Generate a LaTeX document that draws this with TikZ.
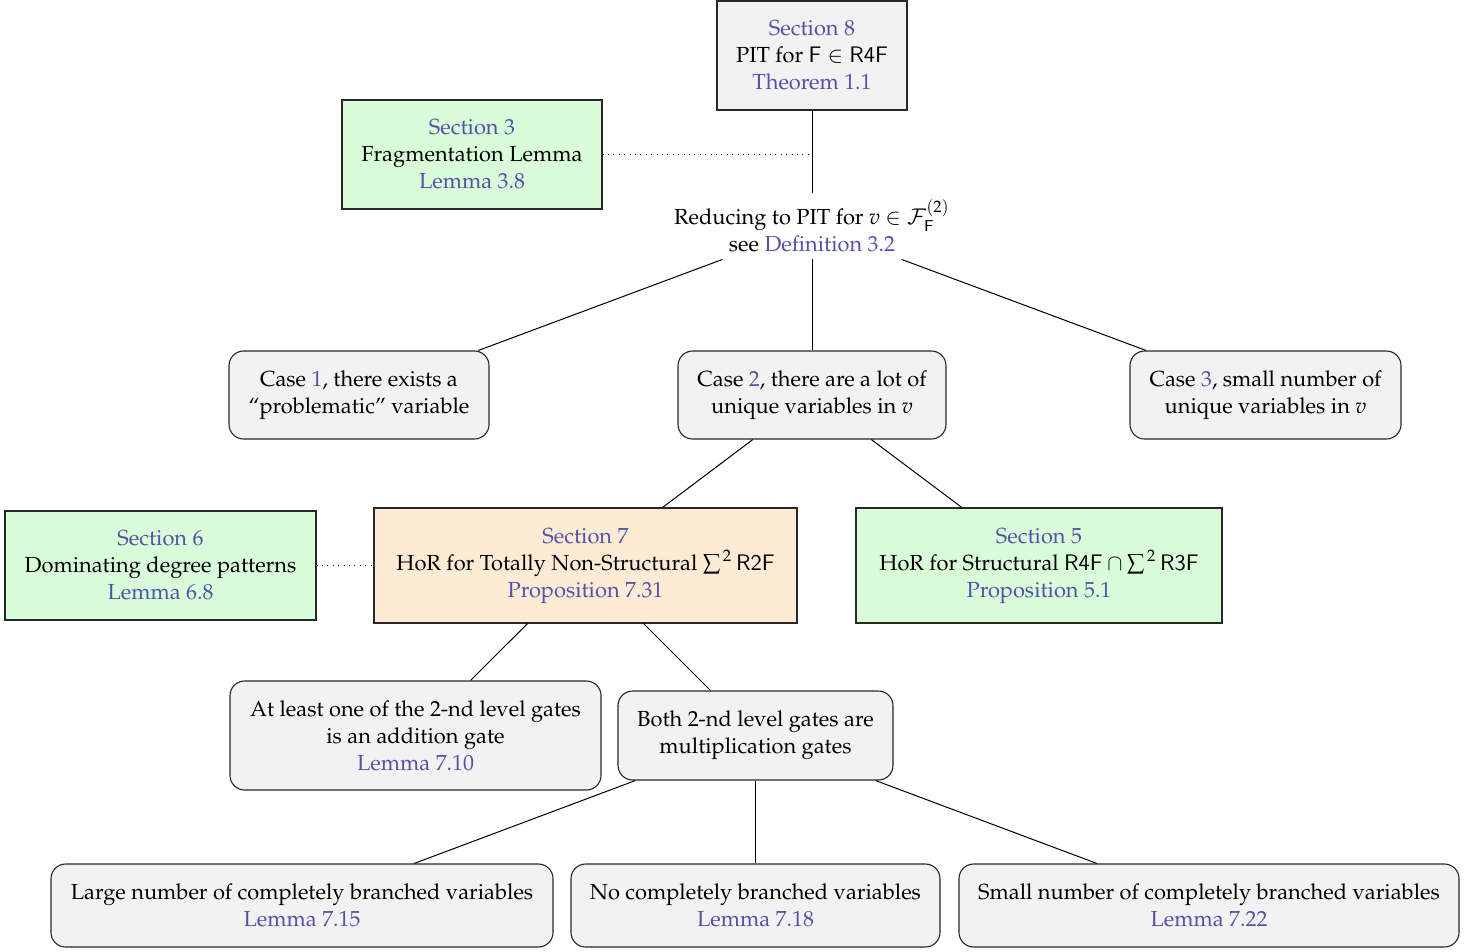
\documentclass[tikz,border=0pt]{standalone}
\usepackage[T1]{fontenc}
\usepackage{mathpazo}
\usepackage[scaled=0.95]{helvet}
\definecolor{linkblue}{RGB}{82,82,168}
\definecolor{boxgray}{RGB}{242,242,242}
\definecolor{boxgreen}{RGB}{217,252,217}
\definecolor{boxorange}{RGB}{253,235,214}
\definecolor{edgegray}{RGB}{40,40,40}
\newcommand{\lk}[1]{\textcolor{linkblue}{#1}}
\newcommand{\vv}{\textit{v}}
\def\u{0.44444pt}
\tikzset{
  base/.style={draw=edgegray, line width=0.5pt, align=center, inner sep=0pt, text=black, font=\fontsize{9.7pt}{12pt}\selectfont},
  sqgray/.style={base, fill=boxgray},
  sqgreen/.style={base, fill=boxgreen},
  sqorange/.style={base, fill=boxorange},
  rgray/.style={base, fill=boxgray, rounded corners=6.5pt},
  plain/.style={align=center, inner sep=0pt, font=\fontsize{9.7pt}{12pt}\selectfont},
  conn/.style={draw=black, line width=0.45pt},
  dots/.style={draw=black, line width=0.4pt, dotted},
  sz/.style 2 args={minimum width=#1*\u, minimum height=#2*\u},
}
\begin{document}
\begin{tikzpicture}[x=0.44444pt, y=-0.44444pt]
\useasboundingbox (0,0) rectangle (1477,951);

\node[sqgray, sz={190}{109}] (s8) at (812,55.5) {\lk{Section 8}\\PIT for $\mathsf{F}\in\mathsf{R4F}$\\\lk{Theorem 1.1}};
\node[sqgreen, sz={260}{109}] (s3) at (472,154.5) {\lk{Section 3}\\Fragmentation Lemma\\\lk{Lemma 3.8}};
\node[plain, minimum height=66*\u] (red) at (812,226) {Reducing to PIT for \vv{} $\in\mathcal{F}^{(2)}_{\mathsf{F}}$\\see \lk{Definition 3.2}};

\node[rgray, sz={260}{88}] (c1) at (359,395) {Case \lk{1}, there exists a\\``problematic'' variable};
\node[rgray, sz={268}{88}] (c2) at (812,395) {Case \lk{2}, there are a lot of\\unique variables in \vv};
\node[rgray, sz={271}{88}] (c3) at (1265.5,395) {Case \lk{3}, small number of\\unique variables in \vv};

\node[sqgreen, sz={311}{109}] (s6) at (160.5,565.5) {\lk{Section 6}\\Dominating degree patterns\\\lk{Lemma 6.8}};
\node[sqorange, sz={423}{115}] (s7) at (585.5,565.5) {\lk{Section 7}\\HoR for Totally Non-Structural ${\textstyle\sum}^{\,2}\,\mathsf{R2F}$\\\lk{Proposition 7.31}};
\node[sqgreen, sz={366}{115}] (s5) at (1039,565.5) {\lk{Section 5}\\HoR for Structural $\mathsf{R4F}\cap{\textstyle\sum}^{\,2}\,\mathsf{R3F}$\\\lk{Proposition 5.1}};

\node[rgray, sz={371}{109}] (g1) at (415.5,735.5) {At least one of the 2-nd level gates\\is an addition gate\\\lk{Lemma 7.10}};
\node[rgray, sz={275}{89}] (g2) at (755.5,735.5) {Both 2-nd level gates are\\multiplication gates};

\node[rgray, sz={502}{83}] (l1) at (302,905.5) {Large number of completely branched variables\\\lk{Lemma 7.15}};
\node[rgray, sz={369}{83}] (l2) at (755.5,905.5) {No completely branched variables\\\lk{Lemma 7.18}};
\node[rgray, sz={500}{83}] (l3) at (1209,905.5) {Small number of completely branched variables\\\lk{Lemma 7.22}};

\draw[conn] (s8) -- (red);
\draw[dots] (s3.east) -- (s3.east -| s8.south);
\draw[conn] (red) -- (c1);
\draw[conn] (red) -- (c2);
\draw[conn] (red) -- (c3);
\draw[conn] (c2) -- (s7);
\draw[conn] (c2) -- (s5);
\draw[dots] (s6.east) -- (s7.west);
\draw[conn] (s7) -- (g1);
\draw[conn] (s7) -- (g2);
\draw[conn] (g2) -- (l1);
\draw[conn] (g2) -- (l2);
\draw[conn] (g2) -- (l3);
\end{tikzpicture}
\end{document}
